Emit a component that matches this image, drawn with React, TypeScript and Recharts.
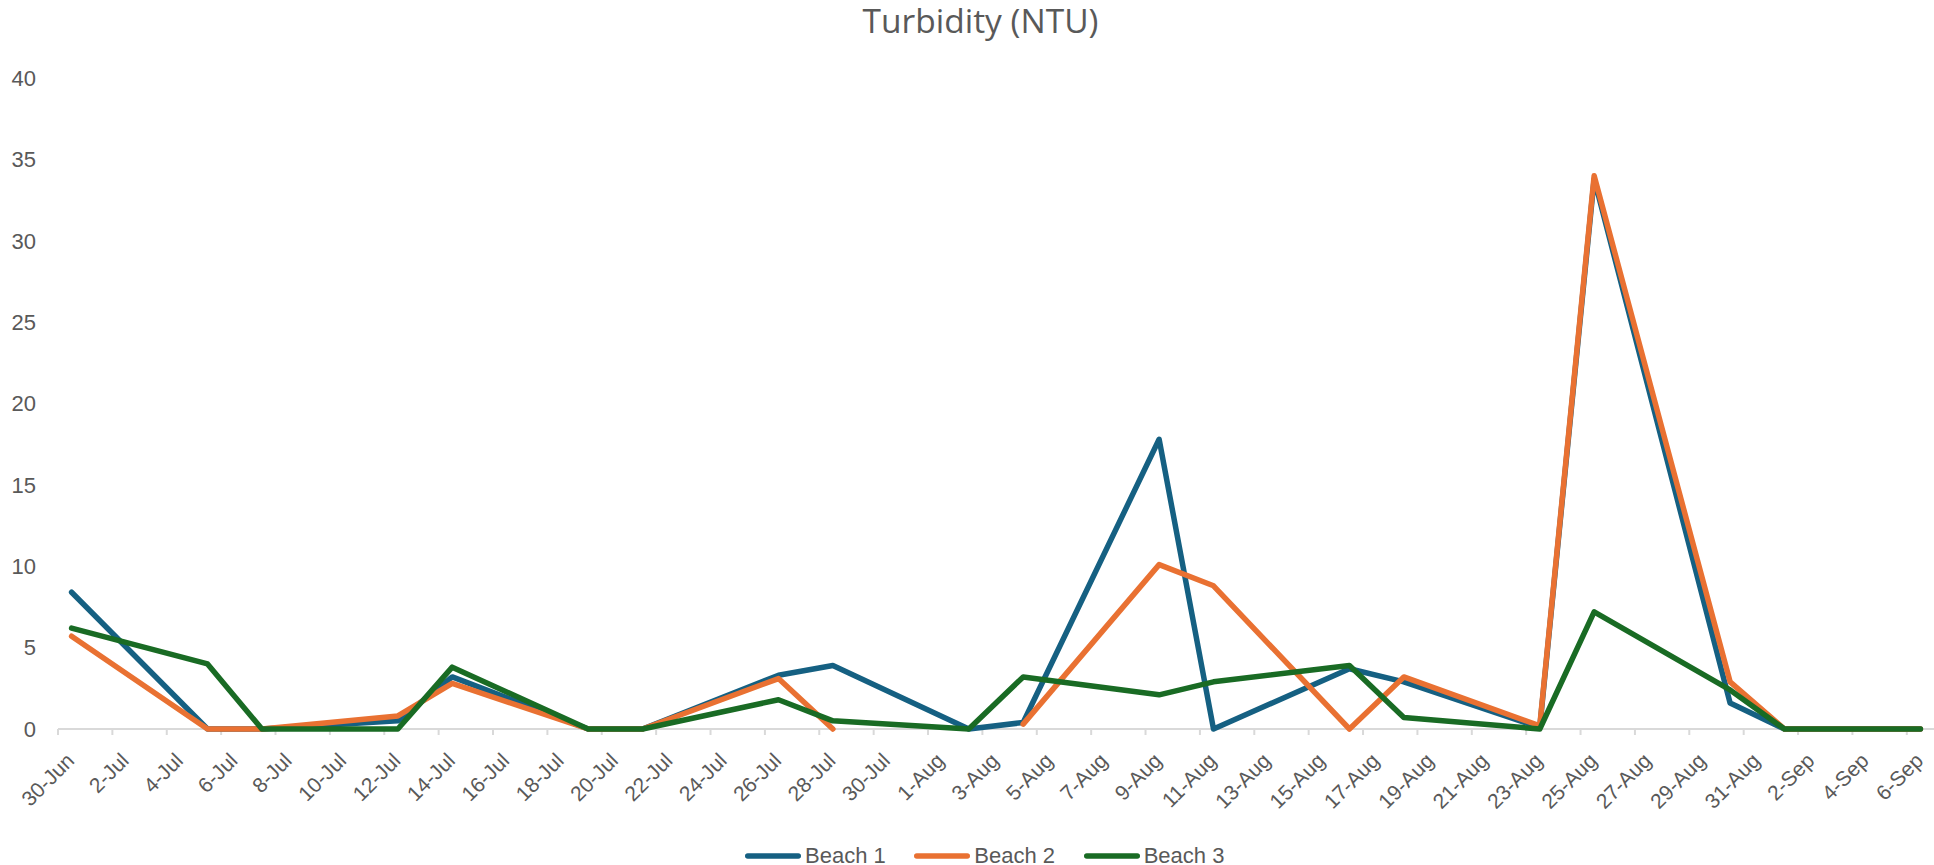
import React from 'react';
import { LineChart, Line, XAxis, YAxis, Legend } from 'recharts';

// ---- data ----
const sampleDates = ['30-Jun','5-Jul','7-Jul','12-Jul','14-Jul','19-Jul','21-Jul','26-Jul','28-Jul','2-Aug','4-Aug','9-Aug','11-Aug','16-Aug','18-Aug','23-Aug','25-Aug','30-Aug','1-Sep','6-Sep'];
const beach1 = [8.4, 0, 0, 0.5, 3.2, 0, 0, 3.3, 3.9, 0, 0.4, 17.8, 0, 3.7, 2.9, 0.1, 33.8, 1.6, 0, 0];
const beach2 = [5.7, 0, 0, 0.8, 2.8, 0, 0, 3.1, 0, null, 0.3, 10.1, 8.8, 0, 3.2, 0.2, 34.0, 2.9, 0, 0];
const beach3 = [6.2, 4.0, 0, 0, 3.8, 0, 0, 1.8, 0.5, 0, 3.2, 2.1, 2.9, 3.9, 0.7, 0, 7.2, 2.4, 0, 0];
const tickLabels = ['30-Jun','2-Jul','4-Jul','6-Jul','8-Jul','10-Jul','12-Jul','14-Jul','16-Jul','18-Jul','20-Jul','22-Jul','24-Jul','26-Jul','28-Jul','30-Jul','1-Aug','3-Aug','5-Aug','7-Aug','9-Aug','11-Aug','13-Aug','15-Aug','17-Aug','19-Aug','21-Aug','23-Aug','25-Aug','27-Aug','29-Aug','31-Aug','2-Sep','4-Sep','6-Sep'];
const yTicks = [0, 5, 10, 15, 20, 25, 30, 35, 40];
const seriesNames = ['Beach 1', 'Beach 2', 'Beach 3'];
const seriesColors = ['#156082', '#E97132', '#196B24'];

const MONTHS: Record<string, number> = { Jun: 5, Jul: 6, Aug: 7, Sep: 8 };
const dayIndex = (s: string) => {
  const [d, m] = s.split('-');
  return Math.round((Date.UTC(2025, MONTHS[m], Number(d)) - Date.UTC(2025, 5, 30)) / 86400000);
};

const rows = sampleDates.map((d, i) => ({ day: dayIndex(d), b1: beach1[i], b2: beach2[i], b3: beach3[i] }));
const xTicks = tickLabels.map(dayIndex);
const xDomain = [xTicks[0] - 0.5, xTicks[xTicks.length - 1] + 0.5];

const W = 1934;
const H = 865;
const Y_AXIS_W = 58;
const SLOT = (W - Y_AXIS_W) / (xDomain[1] - xDomain[0]);
const TEXT = '#595959';
const FONT = '"Liberation Sans", Arial, sans-serif';
const MARGIN = { top: 78, right: 0, bottom: 0, left: 0 };

const XTickLabel = (props: any) => {
  const { x, y, payload } = props;
  const label = tickLabels[xTicks.indexOf(payload.value)];
  const tx = x + 4;
  const ty = y + 33;
  return (
    <text x={tx} y={ty} textAnchor="end" fill={TEXT} fontSize={21} fontFamily={FONT} transform={`rotate(-45, ${tx}, ${ty})`}>
      {label}
    </text>
  );
};

const XTickMark = (props: any) => {
  const { x, y } = props;
  return <line x1={x - SLOT / 2} x2={x - SLOT / 2} y1={y} y2={y + 6} stroke="#d9d9d9" strokeWidth={2} />;
};

const LegendContent = (props: any) => {
  const payload = props.payload || [];
  return (
    <div style={{ display: 'flex', alignItems: 'center', fontFamily: FONT, fontSize: 22, color: TEXT, lineHeight: '26px', whiteSpace: 'nowrap' }}>
      {payload.map((p: any, i: number) => (
        <div key={i} style={{ display: 'flex', alignItems: 'center', marginRight: i < payload.length - 1 ? 28.6 : 0 }}>
          <svg width={56} height={8} style={{ display: 'block' }}>
            <line x1={2.75} x2={53.25} y1={4} y2={4} stroke={p.color} strokeWidth={5.5} strokeLinecap="round" />
          </svg>
          <span style={{ marginLeft: 4 }}>{p.value}</span>
        </div>
      ))}
    </div>
  );
};

export default function App() {
  const keys = ['b1', 'b2', 'b3'];
  const layer: React.CSSProperties = { position: 'absolute', left: 0, top: 0 };
  return (
    <div style={{ position: 'absolute', left: 0, top: 0, width: W, height: H, background: '#fff' }}>
      {/* bottom layer: axis line and tick marks, drawn beneath the series */}
      <div style={layer}>
        <LineChart width={W} height={H} data={rows} margin={MARGIN}>
          <XAxis
            type="number"
            dataKey="day"
            domain={xDomain}
            ticks={xTicks}
            interval={0}
            tickLine={false}
            tickSize={0}
            tickMargin={0}
            axisLine={{ stroke: '#d9d9d9', strokeWidth: 2 }}
            height={136}
            tick={<XTickMark />}
          />
          <YAxis type="number" domain={[0, 40]} ticks={yTicks} width={Y_AXIS_W} axisLine={false} tickLine={false} tick={false} />
        </LineChart>
      </div>
      {/* top layer: labels, series, legend */}
      <div style={layer}>
        <LineChart width={W} height={H} data={rows} margin={MARGIN}>
          <XAxis
            type="number"
            dataKey="day"
            domain={xDomain}
            ticks={xTicks}
            interval={0}
            tickLine={false}
            tickSize={0}
            tickMargin={0}
            axisLine={false}
            height={136}
            tick={<XTickLabel />}
          />
          <YAxis
            type="number"
            domain={[0, 40]}
            ticks={yTicks}
            interval={0}
            width={Y_AXIS_W}
            axisLine={false}
            tickLine={false}
            tickSize={0}
            tickMargin={22}
            tick={{ fill: TEXT, fontSize: 22, fontFamily: FONT }}
          />
          <Legend
            layout="horizontal"
            verticalAlign="middle"
            align="center"
            wrapperStyle={{ left: 745, top: 843, width: 500, height: 26 }}
            content={<LegendContent />}
          />
          {keys.map((k, i) => (
            <Line
              key={k}
              type="linear"
              dataKey={k}
              name={seriesNames[i]}
              stroke={seriesColors[i]}
              strokeWidth={5.5}
              strokeLinecap="round"
              strokeLinejoin="round"
              dot={false}
              activeDot={false}
              connectNulls={false}
              isAnimationActive={false}
            />
          ))}
        </LineChart>
      </div>
      <div
        style={{
          position: 'absolute', left: 980.5 - 300, top: 4, width: 600, textAlign: 'center',
          fontFamily: '"Open Sans", sans-serif', fontSize: 33.5, lineHeight: '33.5px', color: TEXT,
        }}
      >
        Turbidity (NTU)
      </div>
    </div>
  );
}
